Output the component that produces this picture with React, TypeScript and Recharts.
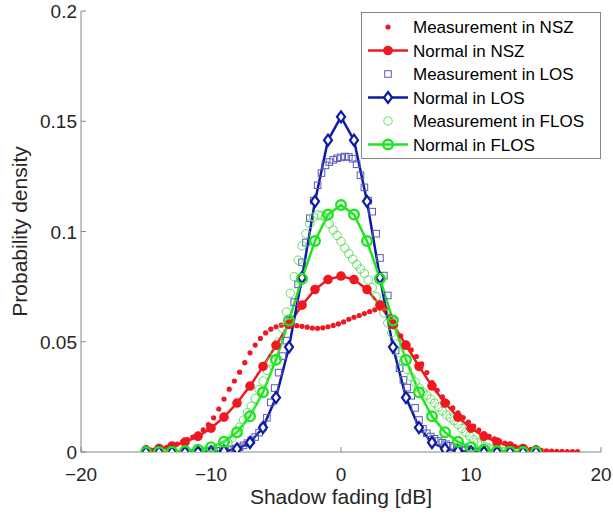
import React from 'react';
import { ComposedChart, Line, Scatter, XAxis, YAxis, Legend } from 'recharts';

const FONT = '"Liberation Sans", Arial, Helvetica, sans-serif';
const AXIS_GRAY = '#858585';
const TEXT = '#262626';

const RED = '#f01820';
const BLUE = '#0d1aa8';
const BLUE_SQ = '#5a5ab4';
const GREEN = '#1ee61e';
const GREEN_C = '#5fe05f';

const xTicks = [-20, -10, 0, 10, 20];
const xTickLabels = ['\u221220', '\u221210', '0', '10', '20'];
const yTicks = [0, 0.05, 0.1, 0.15, 0.2];
const yTickLabels = ['0', '0.05', '0.1', '0.15', '0.2'];

const seriesNames = [
  'Measurement in NSZ',
  'Normal in NSZ',
  'Measurement in LOS',
  'Normal in LOS',
  'Measurement in FLOS',
  'Normal in FLOS',
];

// Normal fits, sampled at integer dB
const normalX = [-15, -14, -13, -12, -11, -10, -9, -8, -7, -6, -5, -4, -3, -2, -1, 0, 1, 2, 3, 4, 5, 6, 7, 8, 9, 10, 11, 12, 13, 14, 15];
const normalNSZ = [0.0009, 0.0016, 0.0027, 0.0045, 0.0071, 0.0108, 0.0158, 0.0222, 0.0299, 0.0388, 0.0484, 0.0579, 0.0666, 0.0737, 0.0782, 0.0798, 0.0782, 0.0737, 0.0666, 0.0579, 0.0484, 0.0388, 0.0299, 0.0222, 0.0158, 0.0108, 0.0071, 0.0045, 0.0027, 0.0016, 0.0009];
const normalLOS = [0, 0, 0, 0, 0, 0.0001, 0.0004, 0.0014, 0.0043, 0.0111, 0.0247, 0.0476, 0.0791, 0.1137, 0.1414, 0.152, 0.1414, 0.1137, 0.0791, 0.0476, 0.0247, 0.0111, 0.0043, 0.0014, 0.0004, 0.0001, 0, 0, 0, 0, 0];
const normalFLOS = [0, 0, 0.0001, 0.0004, 0.001, 0.0022, 0.0046, 0.009, 0.0162, 0.0271, 0.0418, 0.0596, 0.0786, 0.0957, 0.1077, 0.112, 0.1077, 0.0957, 0.0786, 0.0596, 0.0418, 0.0271, 0.0162, 0.009, 0.0046, 0.0022, 0.001, 0.0004, 0.0001, 0, 0];

// Measurement in NSZ
const nszMeasX = [-15, -14.6, -14.2, -13.8, -13.4, -13, -12.6, -12.2, -11.8, -11.4, -11, -10.6, -10.2, -9.8, -9.4, -9, -8.6, -8.2, -7.8, -7.4, -7, -6.6, -6.2, -5.8, -5.4, -5, -4.6, -4.2, -3.8, -3.4, -3, -2.6, -2.2, -1.8, -1.4, -1, -0.6, -0.2, 0.2, 0.6, 1, 1.4, 1.8, 2.2, 2.6, 3, 3.4, 3.8, 4.2, 4.6, 5, 5.4, 5.8, 6.2, 6.6, 7, 7.4, 7.8, 8.2, 8.6, 9, 9.4, 9.8, 10.2, 10.6, 11, 11.4, 11.8, 12.2, 12.6, 13, 13.4, 13.8, 14.2, 14.6, 15, 15.4, 15.8, 16.2, 16.6, 17, 17.4, 17.8, 18.2];
const nszMeasY = [0.0006, 0.0009, 0.0012, 0.0016, 0.0021, 0.0028, 0.0036, 0.0045, 0.0056, 0.0068, 0.0082, 0.01, 0.0124, 0.0155, 0.0195, 0.024, 0.0285, 0.0322, 0.0362, 0.0405, 0.045, 0.0485, 0.0515, 0.054, 0.0557, 0.0568, 0.0575, 0.0577, 0.0576, 0.0573, 0.057, 0.0566, 0.0562, 0.0561, 0.0563, 0.0568, 0.0574, 0.0581, 0.059, 0.0602, 0.0611, 0.0619, 0.0628, 0.0637, 0.0645, 0.0652, 0.065, 0.0615, 0.0575, 0.0527, 0.0495, 0.0463, 0.0433, 0.04, 0.036, 0.0315, 0.028, 0.025, 0.0224, 0.02, 0.0177, 0.0156, 0.0136, 0.0117, 0.0099, 0.0083, 0.0071, 0.006, 0.0049, 0.004, 0.0032, 0.0025, 0.002, 0.0015, 0.0012, 0.0009, 0.0007, 0.0005, 0.0004, 0.0003, 0.0003, 0.0002, 0.0002, 0.0002];

// Measurement in LOS
const losMeasX = [-10.2, -9.9, -9.6, -9.3, -9, -8.7, -8.4, -8.1, -7.8, -7.5, -7.2, -6.9, -6.6, -6.3, -6, -5.7, -5.4, -5.1, -4.8, -4.5, -4.2, -3.9, -3.6, -3.3, -3, -2.7, -2.4, -2.1, -1.8, -1.5, -1.2, -0.9, -0.6, -0.3, 0, 0.3, 0.6, 0.9, 1.2, 1.5, 1.8, 2.1, 2.4, 2.7, 3, 3.3, 3.6, 3.9, 4.2, 4.5, 4.8, 5.1, 5.4, 5.7, 6, 6.3, 6.6, 6.9, 7.2, 7.5, 7.8, 8.1, 8.4, 8.7, 9, 9.3, 9.6, 9.9, 10.2, 10.5];
const losMeasY = [0.0002, 0.0003, 0.0004, 0.0005, 0.0007, 0.0009, 0.0012, 0.0016, 0.0022, 0.003, 0.004, 0.0053, 0.0068, 0.0088, 0.0112, 0.0155, 0.0225, 0.029, 0.036, 0.0435, 0.0505, 0.0595, 0.068, 0.076, 0.086, 0.095, 0.106, 0.114, 0.121, 0.1265, 0.13, 0.1315, 0.1325, 0.1332, 0.1336, 0.134, 0.1338, 0.133, 0.1305, 0.1255, 0.12, 0.114, 0.109, 0.099, 0.088, 0.08, 0.071, 0.06, 0.046, 0.038, 0.0327, 0.0292, 0.0255, 0.02, 0.0145, 0.0105, 0.0085, 0.007, 0.006, 0.005, 0.0042, 0.0035, 0.0028, 0.0022, 0.0016, 0.0011, 0.0007, 0.0004, 0.0002, 0.0001];

// Measurement in FLOS
const flosMeasX = [-10.5, -10.2, -9.9, -9.6, -9.3, -9, -8.7, -8.4, -8.1, -7.8, -7.5, -7.2, -6.9, -6.6, -6.3, -6, -5.7, -5.4, -5.1, -4.8, -4.5, -4.2, -3.9, -3.6, -3.3, -3, -2.7, -2.4, -2.1, -1.8, -1.5, -1.2, -0.9, -0.6, -0.3, 0, 0.3, 0.6, 0.9, 1.2, 1.5, 1.8, 2.1, 2.4, 2.7, 3, 3.3, 3.6, 3.9, 4.2, 4.5, 4.8, 5.1, 5.4, 5.7, 6, 6.3, 6.6, 6.9, 7.2, 7.5, 7.8, 8.1, 8.4, 8.7, 9, 9.3, 9.6, 9.9, 10.2, 10.5, 10.8, 11.1, 11.4, 11.7, 12, 12.3, 12.6];
const flosMeasY = [0.0003, 0.0006, 0.0009, 0.0015, 0.0024, 0.0032, 0.0043, 0.0063, 0.0085, 0.0113, 0.0145, 0.0178, 0.0208, 0.0243, 0.0283, 0.0322, 0.037, 0.041, 0.045, 0.05, 0.056, 0.0635, 0.072, 0.0795, 0.087, 0.0935, 0.099, 0.1035, 0.1065, 0.1075, 0.1073, 0.1065, 0.1035, 0.1007, 0.0982, 0.0955, 0.0925, 0.09, 0.0875, 0.085, 0.083, 0.081, 0.078, 0.0745, 0.0705, 0.067, 0.063, 0.0585, 0.054, 0.049, 0.045, 0.041, 0.0375, 0.034, 0.0318, 0.029, 0.0272, 0.0258, 0.024, 0.0222, 0.0204, 0.0186, 0.0168, 0.0155, 0.0142, 0.0125, 0.0107, 0.0089, 0.0072, 0.0055, 0.0042, 0.0032, 0.0024, 0.0018, 0.0012, 0.0008, 0.0005, 0.0003];

const normalRows = normalX.map((x, i) => ({ x, nsz: normalNSZ[i], los: normalLOS[i], flos: normalFLOS[i] }));
const nszMeas = nszMeasX.map((x, i) => ({ x, y: nszMeasY[i] }));
const losMeas = losMeasX.map((x, i) => ({ x, y: losMeasY[i] }));
const flosMeas = flosMeasX.map((x, i) => ({ x, y: flosMeasY[i] }));

// ---- marker shapes ----
const RedDot = ({ cx, cy, r = 2.6 }: any) => <circle cx={cx} cy={cy} r={r} fill={RED} />;
const RedBig = ({ cx, cy }: any) => <circle cx={cx} cy={cy} r={4.8} fill={RED} />;
const Square = ({ cx, cy }: any) => (
  <rect x={cx - 3.3} y={cy - 3.3} width={6.6} height={6.6} fill="none" stroke={BLUE_SQ} strokeWidth={1} />
);
const Diamond = ({ cx, cy }: any) => (
  <path d={`M${cx},${cy - 5.5} L${cx + 4},${cy} L${cx},${cy + 5.5} L${cx - 4},${cy} Z`} fill="#fff" stroke={BLUE} strokeWidth={2.2} />
);
const OpenCircle = ({ cx, cy }: any) => (
  <circle cx={cx} cy={cy} r={4.2} fill="none" stroke={GREEN_C} strokeWidth={1} />
);
const GreenBig = ({ cx, cy }: any) => (
  <circle cx={cx} cy={cy} r={4.8} fill="none" stroke={GREEN} strokeWidth={2.4} />
);

// ---- ticks ----
const XTickBottom = (props: any) => {
  const { x, y, payload } = props;
  const i = xTicks.indexOf(payload.value);
  return (
    <g>
      <line x1={x} x2={x} y1={y} y2={y - 5} stroke={AXIS_GRAY} strokeWidth={1} />
      <text x={x} y={y + 29} textAnchor="middle" fill={TEXT} fontSize={19} fontFamily={FONT}>
        {xTickLabels[i]}
      </text>
    </g>
  );
};
const XTickTop = (props: any) => {
  const { x, y } = props;
  return <line x1={x} x2={x} y1={y} y2={y + 5} stroke={AXIS_GRAY} strokeWidth={1} />;
};
const YTickLeft = (props: any) => {
  const { x, y, payload } = props;
  const i = yTicks.indexOf(payload.value);
  return (
    <g>
      <line x1={x} x2={x + 5} y1={y} y2={y} stroke={AXIS_GRAY} strokeWidth={1} />
      <text x={x - 4} y={y + 7} textAnchor="end" fill={TEXT} fontSize={19} fontFamily={FONT}>
        {yTickLabels[i]}
      </text>
    </g>
  );
};
const YTickRight = (props: any) => {
  const { x, y } = props;
  return <line x1={x} x2={x - 5} y1={y} y2={y} stroke={AXIS_GRAY} strokeWidth={1} />;
};

// ---- legend ----
const renderLegend = () => {
  const rowY = (i: number) => 15 + 23.5 * i;
  const lx1 = 7;
  const lx2 = 47;
  const mx = 27;
  const markers = [
    <RedDot cx={mx} cy={rowY(0)} />,
    <g>
      <line x1={lx1} x2={lx2} y1={rowY(1)} y2={rowY(1)} stroke={RED} strokeWidth={2.5} />
      <RedBig cx={mx} cy={rowY(1)} />
    </g>,
    <Square cx={mx} cy={rowY(2)} />,
    <g>
      <line x1={lx1} x2={lx2} y1={rowY(3)} y2={rowY(3)} stroke={BLUE} strokeWidth={2.5} />
      <Diamond cx={mx} cy={rowY(3)} />
    </g>,
    <OpenCircle cx={mx} cy={rowY(4)} />,
    <g>
      <line x1={lx1} x2={lx2} y1={rowY(5)} y2={rowY(5)} stroke={GREEN} strokeWidth={2.5} />
      <GreenBig cx={mx} cy={rowY(5)} />
    </g>,
  ];
  return (
    <svg width={240} height={147} style={{ display: 'block' }}>
      <rect x={0.5} y={0.5} width={239} height={146} fill="#fff" stroke={AXIS_GRAY} strokeWidth={1} />
      {seriesNames.map((name, i) => (
        <g key={name}>
          {markers[i]}
          <text x={52} y={rowY(i) + 6} fill="#000" fontSize={17} fontFamily={FONT}>
            {name}
          </text>
        </g>
      ))}
    </svg>
  );
};

export default function App() {
  return (
    <div style={{ position: 'absolute', left: 0, top: 0, width: 613, height: 514, background: '#fff' }}>
      <ComposedChart
        width={613}
        height={514}
        data={normalRows}
        margin={{ top: 11, right: 12, bottom: 0, left: 0 }}
      >
        <XAxis
          xAxisId="b"
          dataKey="x"
          type="number"
          domain={[-20, 20]}
          ticks={xTicks}
          interval={0}
          allowDataOverflow
          height={62}
          tickSize={0}
          tickMargin={0}
          tickLine={false}
          axisLine={{ stroke: AXIS_GRAY, strokeWidth: 1 }}
          tick={<XTickBottom />}
          label={{ value: 'Shadow fading [dB]', position: 'insideBottom', offset: 10, fill: TEXT, fontSize: 21, fontFamily: FONT }}
        />
        <XAxis
          xAxisId="t"
          dataKey="x"
          type="number"
          orientation="top"
          domain={[-20, 20]}
          ticks={xTicks}
          interval={0}
          allowDataOverflow
          height={0}
          tickSize={0}
          tickMargin={0}
          tickLine={false}
          axisLine={{ stroke: AXIS_GRAY, strokeWidth: 1 }}
          tick={<XTickTop />}
        />
        <YAxis
          yAxisId="l"
          type="number"
          domain={[0, 0.2]}
          ticks={yTicks}
          interval={0}
          allowDataOverflow
          width={81}
          tickSize={0}
          tickMargin={0}
          tickLine={false}
          axisLine={{ stroke: AXIS_GRAY, strokeWidth: 1 }}
          tick={<YTickLeft />}
          label={{ value: 'Probability density', angle: -90, position: 'insideLeft', offset: 20, fill: TEXT, fontSize: 21, fontFamily: FONT, style: { textAnchor: 'middle' } }}
        />
        <YAxis
          yAxisId="r"
          type="number"
          orientation="right"
          domain={[0, 0.2]}
          ticks={yTicks}
          interval={0}
          allowDataOverflow
          width={0}
          tickSize={0}
          tickMargin={0}
          tickLine={false}
          axisLine={{ stroke: AXIS_GRAY, strokeWidth: 1 }}
          tick={<YTickRight />}
        />
        <Scatter
          name={seriesNames[0]}
          xAxisId="b"
          yAxisId="l"
          data={nszMeas}
          dataKey="y"
          shape={(p: any) => <RedDot cx={p.cx} cy={p.cy} />}
          isAnimationActive={false}
        />
        <Line
          name={seriesNames[1]}
          xAxisId="b"
          yAxisId="l"
          dataKey="nsz"
          stroke={RED}
          strokeWidth={2.5}
          dot={(p: any) => <RedBig key={`n-${p.index}`} cx={p.cx} cy={p.cy} />}
          activeDot={false}
          isAnimationActive={false}
        />
        <Scatter
          name={seriesNames[2]}
          xAxisId="b"
          yAxisId="l"
          data={losMeas}
          dataKey="y"
          shape={(p: any) => <Square cx={p.cx} cy={p.cy} />}
          isAnimationActive={false}
        />
        <Line
          name={seriesNames[3]}
          xAxisId="b"
          yAxisId="l"
          dataKey="los"
          stroke={BLUE}
          strokeWidth={2.5}
          dot={(p: any) => <Diamond key={`l-${p.index}`} cx={p.cx} cy={p.cy} />}
          activeDot={false}
          isAnimationActive={false}
        />
        <Scatter
          name={seriesNames[4]}
          xAxisId="b"
          yAxisId="l"
          data={flosMeas}
          dataKey="y"
          shape={(p: any) => <OpenCircle cx={p.cx} cy={p.cy} />}
          isAnimationActive={false}
        />
        <Line
          name={seriesNames[5]}
          xAxisId="b"
          yAxisId="l"
          dataKey="flos"
          stroke={GREEN}
          strokeWidth={2.5}
          dot={(p: any) => <GreenBig key={`f-${p.index}`} cx={p.cx} cy={p.cy} />}
          activeDot={false}
          isAnimationActive={false}
        />
        <Legend
          layout="vertical"
          align="center"
          verticalAlign="middle"
          content={renderLegend}
          wrapperStyle={{ left: 361, top: 12, width: 240, height: 147, right: 'auto', bottom: 'auto', margin: 0 }}
        />
      </ComposedChart>
    </div>
  );
}
